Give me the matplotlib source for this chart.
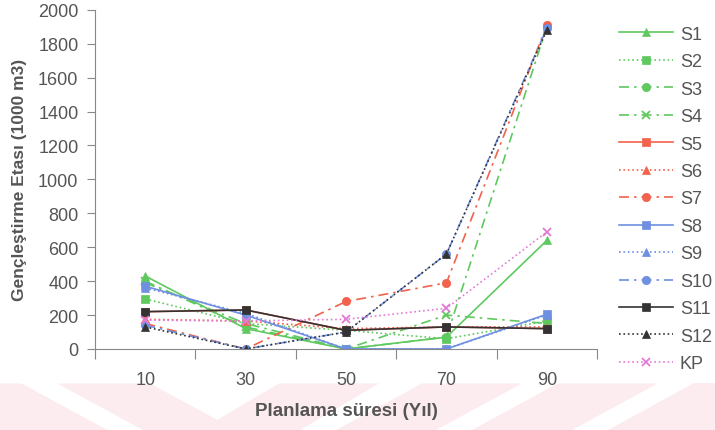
import matplotlib.pyplot as plt
from matplotlib.patches import Polygon

years = ["10", "30", "50", "70", "90"]

S1 = [430, 120, 0, 70, 640]
S2 = [295, 150, 110, 60, 165]
S3 = [390, 150, 0, 70, 1900]
S4 = [400, 130, 0, 200, 150]
S5 = [220, 230, 110, 130, 120]
S6 = [175, 165, 120, 130, 130]
S7 = [150, 0, 280, 390, 1910]
S8 = [370, 200, 0, 0, 205]
S9 = [360, 210, 0, 0, 200]
S10 = [140, 0, 100, 560, 1890]
S11 = [220, 230, 110, 130, 120]
S12 = [130, 0, 100, 560, 1880]
KP = [170, 165, 175, 240, 690]

green = "#5fc95f"
red = "#f2624c"
blue = "#6f8fe0"
black = "#333333"
pink = "#e37ad6"
dashdot = (0, (6, 3, 1.5, 3))

series = [
    ("S1", S1, green, "-", "^"),
    ("S2", S2, green, ":", "s"),
    ("S3", S3, green, dashdot, "o"),
    ("S4", S4, green, dashdot, "x"),
    ("S5", S5, red, "-", "s"),
    ("S6", S6, red, ":", "^"),
    ("S7", S7, red, dashdot, "o"),
    ("S8", S8, blue, "-", "s"),
    ("S9", S9, blue, ":", "^"),
    ("S10", S10, blue, dashdot, "o"),
    ("S11", S11, black, "-", "s"),
    ("S12", S12, black, ":", "^"),
    ("KP", KP, pink, ":", "x"),
]

plt.rcParams["font.family"] = ["Liberation Sans", "DejaVu Sans"]
txt = "#555555"

fig = plt.figure(figsize=(7.15, 4.31), dpi=100)

# faint diagonal stripes along the bottom edge
bg = fig.add_axes([0, 0, 1, 1], zorder=-1)
bg.set_xlim(0, 1)
bg.set_ylim(0, 1)
bg.axis("off")
band = "#fdecef"
stripes = [
    [(0.0, 0.108), (0.03, 0.108), (0.15, 0.0), (0.0, 0.0)],
    [(0.08, 0.108), (0.21, 0.108), (0.33, 0.0), (0.20, 0.0)],
    [(0.28, 0.0), (0.42, 0.0), (0.53, 0.108), (0.39, 0.108)],
    [(0.47, 0.0), (0.61, 0.0), (0.73, 0.108), (0.59, 0.108)],
    [(0.66, 0.0), (0.80, 0.0), (0.92, 0.108), (0.78, 0.108)],
    [(0.85, 0.0), (1.0, 0.0), (1.0, 0.108), (0.97, 0.108)],
]
for pts in stripes:
    bg.add_patch(Polygon(pts, closed=True, facecolor=band, edgecolor="none"))

ax = fig.add_axes([0.133, 0.188, 0.702, 0.787])
ax.patch.set_alpha(0)
x = range(len(years))
for name, vals, color, ls, mk in series:
    ax.plot(x, vals, color=color, linestyle=ls, linewidth=1.2, marker=mk,
            markersize=6, markeredgewidth=1.3 if mk == "x" else 0.5,
            label=name)

ax.set_xlim(-0.5, len(years) - 0.5)
ax.set_ylim(0, 2000)
ax.set_yticks(range(0, 2001, 200))
ax.set_xticks([i - 0.5 for i in range(len(years) + 1)])
ax.set_xticklabels([])
ax.set_xticks(list(x), minor=True)
ax.set_xticklabels(years, minor=True)
ax.tick_params(axis="x", which="major", length=7, color="#888888")
ax.tick_params(axis="x", which="minor", length=0, pad=16)
ax.tick_params(axis="y", length=6, color="#888888", pad=6)
ax.tick_params(which="both", labelsize=13, labelcolor=txt)
for s in ["top", "right"]:
    ax.spines[s].set_visible(False)
for s in ["left", "bottom"]:
    ax.spines[s].set_color("#888888")

ax.set_xlabel("Planlama süresi (Yıl)", fontsize=13.5, fontweight="bold",
              color=txt, labelpad=10)
ax.set_ylabel("Gençleştirme Etası (1000 m3)", fontsize=12.5, fontweight="bold",
              color=txt, labelpad=8)

fig.legend(loc="upper left", bbox_to_anchor=(0.855, 0.955), frameon=False,
           fontsize=13, labelcolor=txt, handlelength=3.0, handletextpad=0.4,
           labelspacing=0.58, borderaxespad=0)

fig.savefig("out.png", dpi=100)
